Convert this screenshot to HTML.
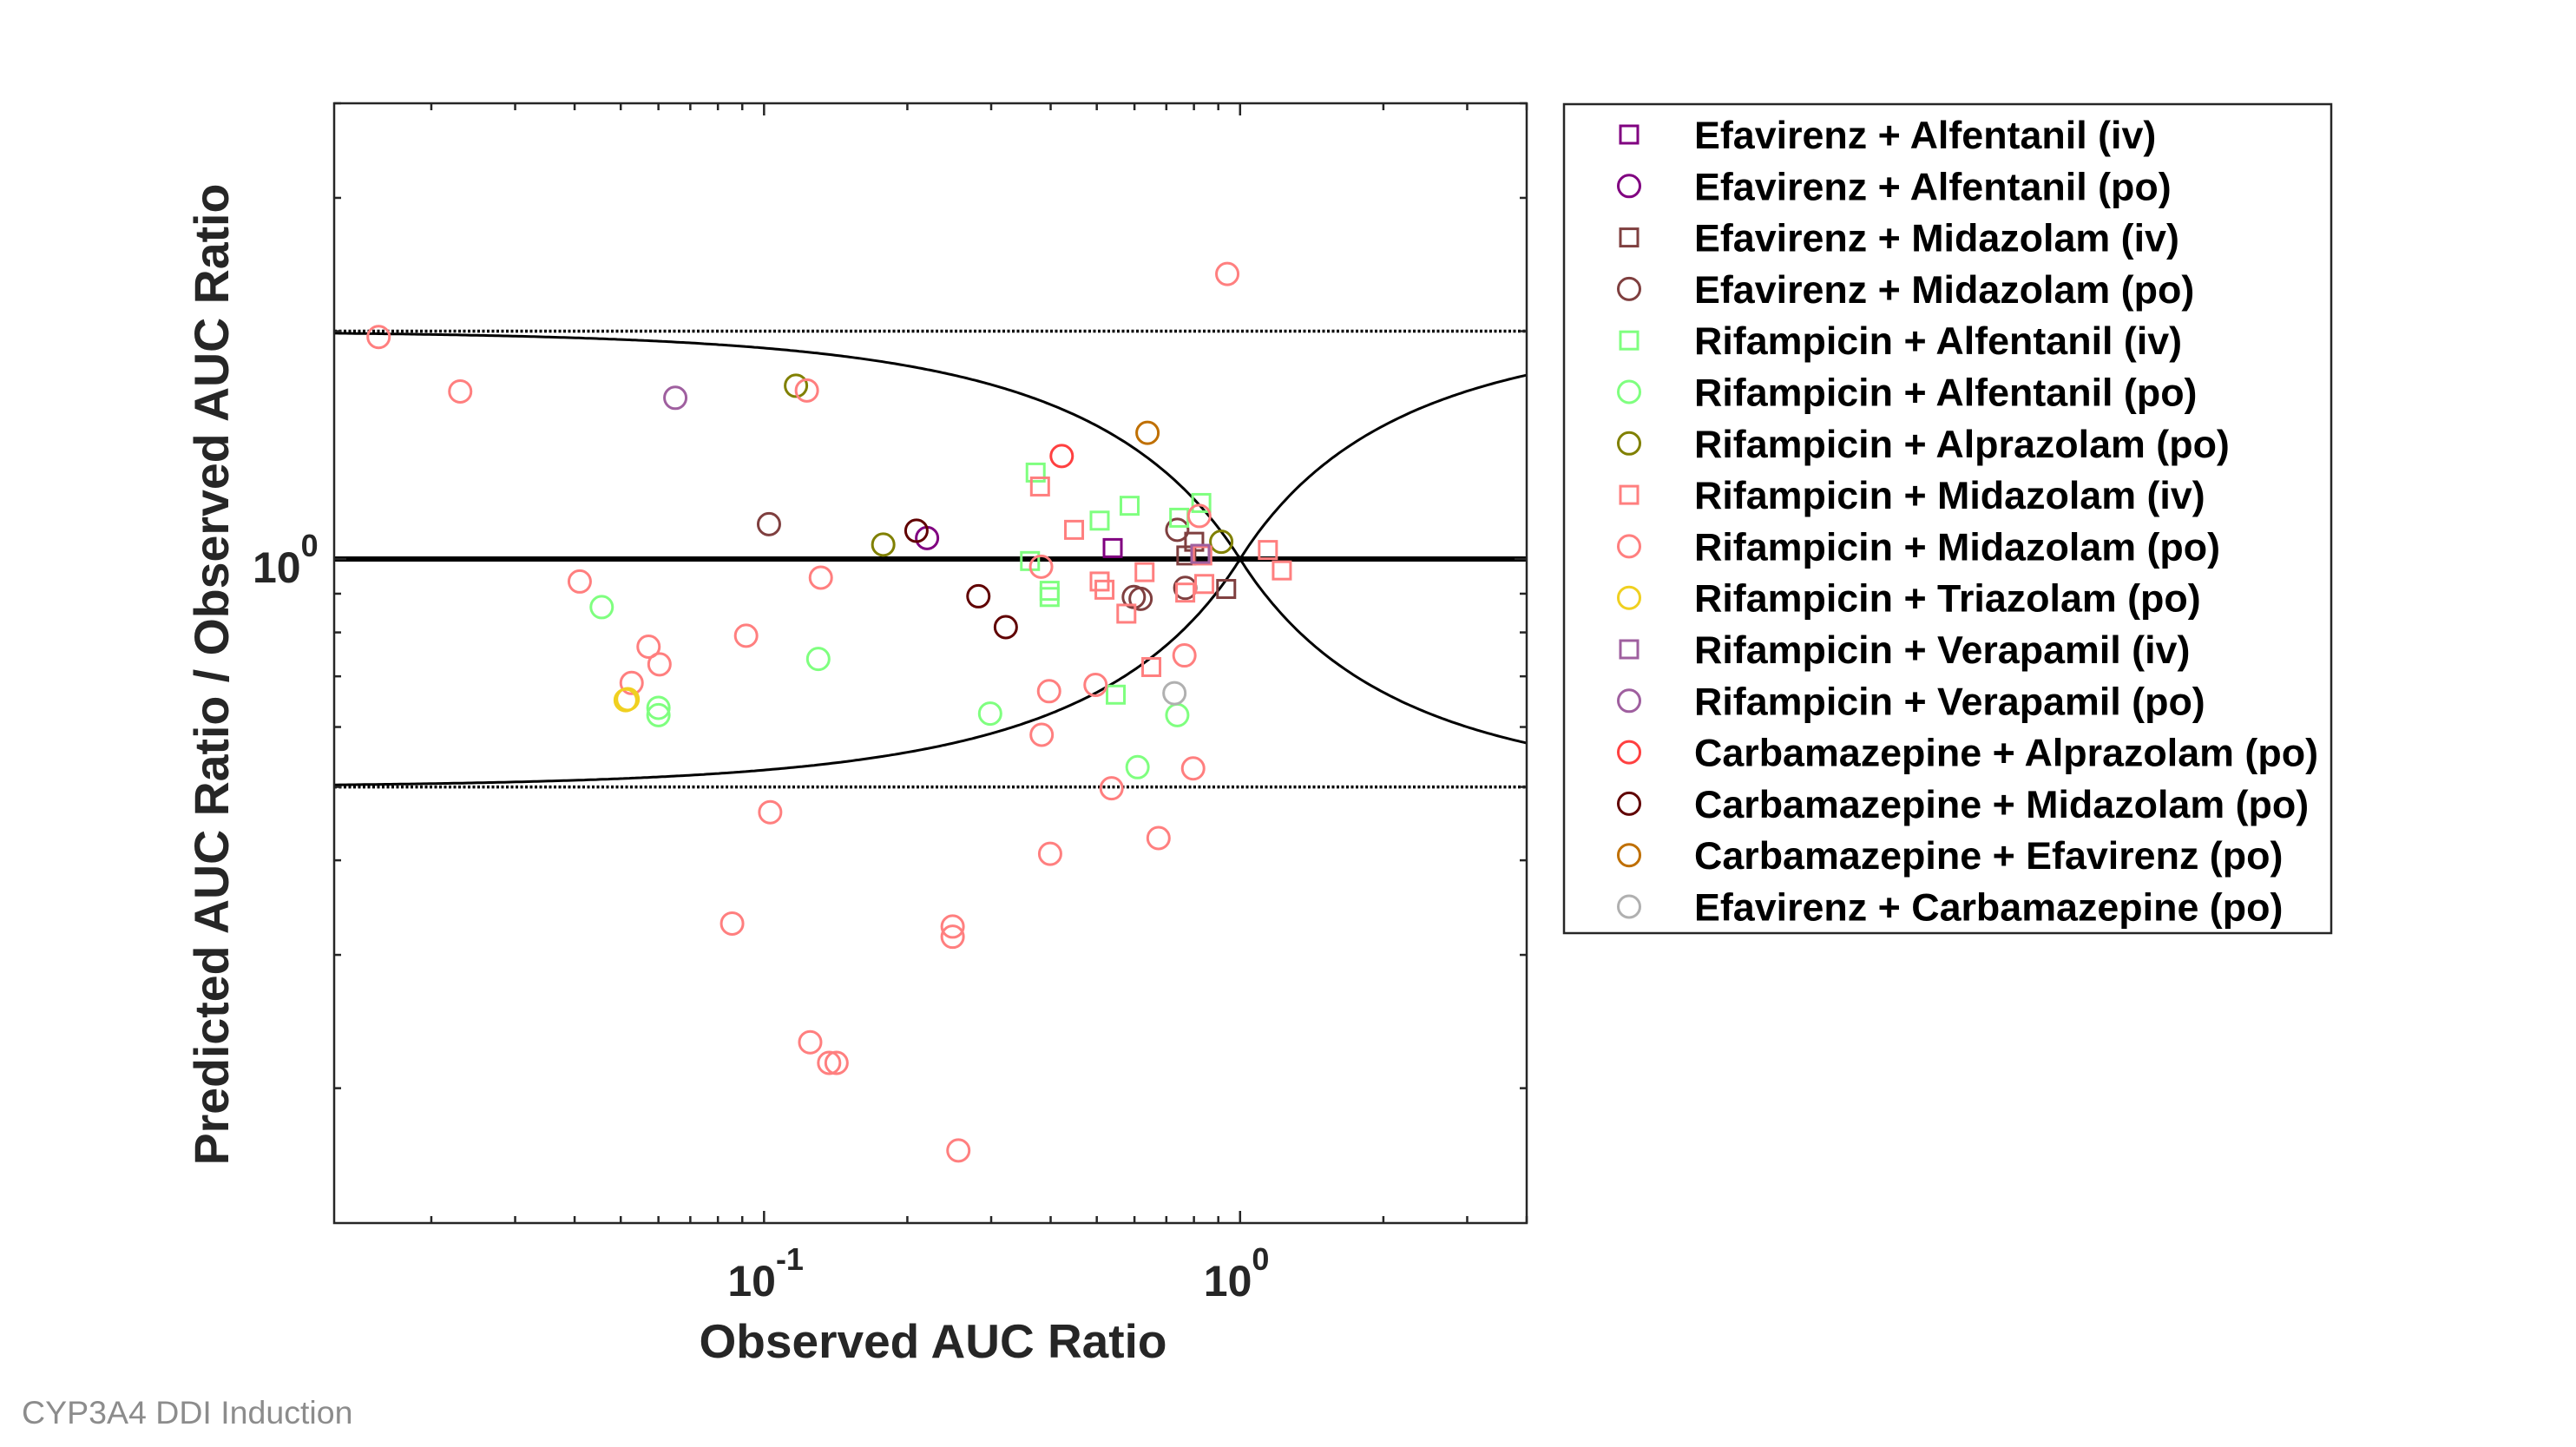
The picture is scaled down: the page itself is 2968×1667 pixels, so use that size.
<!DOCTYPE html>
<html><head><meta charset="utf-8"><style>
html,body{margin:0;padding:0;background:#fff;}
svg{display:block;}
text{font-family:"Liberation Sans",Arial,sans-serif;}
</style></head><body>
<svg id="chart" width="2968" height="1667" viewBox="0 0 2968 1667" xmlns="http://www.w3.org/2000/svg">
<g id="plot"></g>
<g id="legend"></g>
<text x="25" y="1640" font-size="37.5" fill="#8c8c8c">CYP3A4 DDI Induction</text>
</svg>
<script>
const seriesNames = ["Efavirenz + Alfentanil (iv)","Efavirenz + Alfentanil (po)","Efavirenz + Midazolam (iv)","Efavirenz + Midazolam (po)","Rifampicin + Alfentanil (iv)","Rifampicin + Alfentanil (po)","Rifampicin + Alprazolam (po)","Rifampicin + Midazolam (iv)","Rifampicin + Midazolam (po)","Rifampicin + Triazolam (po)","Rifampicin + Verapamil (iv)","Rifampicin + Verapamil (po)","Carbamazepine + Alprazolam (po)","Carbamazepine + Midazolam (po)","Carbamazepine + Efavirenz (po)","Efavirenz + Carbamazepine (po)"];
const seriesMarkers = ["s","o","s","o","s","o","o","s","o","o","s","o","o","o","o","o"];
const seriesColors = ["#800080","#800080","#7f3f3f","#7f3f3f","#7fff7f","#7fff7f","#808000","#ff7f7f","#ff7f7f","#f0d020","#9f5f9f","#9f5f9f","#ff4040","#600000","#bf6f00","#b0b0b0"];
// observed AUC ratios per series
const obs0 = [0.54];
const obs1 = [0.220];
const obs2 = [0.771,0.935,0.801];
const obs3 = [0.1024,0.738,0.598,0.618,0.767];
const obs4 = [0.372,0.507,0.586,0.829,0.745,0.362,0.398,0.398,0.548];
const obs5 = [0.0456,0.060,0.060,0.130,0.2985,0.609,0.738];
const obs6 = [0.1167,0.178,0.913];
const obs7 = [0.380,0.448,0.507,0.519,0.630,0.577,0.651,0.767,0.841,1.144,1.224,0.833];
const obs8 = [0.0155,0.0230,0.123,0.94,0.041,0.1316,0.0572,0.0603,0.0917,0.0527,0.382,0.397,0.497,0.764,0.383,0.797,0.537,0.103,0.674,0.399,0.0857,0.249,0.249,0.125,0.137,0.142,0.256,0.821];
const obs9 = [0.0512,0.0517];
const obs10 = [0.825];
const obs11 = [0.0651];
const obs12 = [0.422];
const obs13 = [0.209,0.282,0.322];
const obs14 = [0.639];
const obs15 = [0.728];
// predicted/observed ratios per series
const rat0 = [1.034];
const rat1 = [1.066];
const rat2 = [1.011,0.913,1.054];
const rat3 = [1.112,1.093,0.891,0.886,0.916];
const rat4 = [1.301,1.124,1.176,1.186,1.134,0.994,0.908,0.891,0.662];
const rat5 = [0.864,0.636,0.622,0.738,0.625,0.531,0.622];
const rat6 = [1.694,1.045,1.054];
const rat7 = [1.247,1.093,0.934,0.911,0.961,0.847,0.720,0.903,0.927,1.028,0.966,1.011];
const rat8 = [1.965,1.665,1.670,2.38,0.934,0.945,0.766,0.726,0.792,0.686,0.977,0.669,0.682,0.746,0.586,0.529,0.498,0.463,0.428,0.408,0.330,0.327,0.317,0.230,0.216,0.216,0.1655,1.14];
const rat9 = [0.651,0.653];
const rat10 = [1.016];
const rat11 = [1.633];
const rat12 = [1.368];
const rat13 = [1.090,0.893,0.813];
const rat14 = [1.468];
const rat15 = [0.665];
const obsAll = [obs0,obs1,obs2,obs3,obs4,obs5,obs6,obs7,obs8,obs9,obs10,obs11,obs12,obs13,obs14,obs15];
const ratAll = [rat0,rat1,rat2,rat3,rat4,rat5,rat6,rat7,rat8,rat9,rat10,rat11,rat12,rat13,rat14,rat15];
const xTickValues = [0.1, 1];
const xTickLabels = ["-1","0"];
const yTickValues = [1];
const yTickLabels = ["0"];
const xDomain = [0.0125, 4];
const yDomain = [0.1327, 4];

const NS = "http://www.w3.org/2000/svg";
const L = 385, R = 1759, T = 119, B = 1409;
const lg = Math.log10;
function X(v){ return L + (lg(v) - lg(xDomain[0])) / (lg(xDomain[1]) - lg(xDomain[0])) * (R - L); }
function Y(v){ return B - (lg(v) - lg(yDomain[0])) / (lg(yDomain[1]) - lg(yDomain[0])) * (B - T); }
function mk(tag, attrs, parent){ const e = document.createElementNS(NS, tag); for (const k in attrs) e.setAttribute(k, attrs[k]); parent.appendChild(e); return e; }
const plot = document.getElementById('plot');

const defs = mk('defs', {}, plot);
const cp = mk('clipPath', {id:'clip'}, defs);
mk('rect', {x:L, y:T, width:R-L, height:B-T}, cp);
const inner = mk('g', {'clip-path':'url(#clip)'}, plot);



[2, 0.5].forEach(v => {
  const ln = mk('line', {x1:L, x2:R, y1:Y(v), y2:Y(v), stroke:'#000', 'stroke-width':3.5, 'stroke-dasharray':'3 2.5'}, inner);
  
  
});
const idl = mk('line', {x1:L, x2:R, y1:Y(1), y2:Y(1), stroke:'#000', 'stroke-width':6}, inner);


function guestUpper(r){ const rr = r < 1 ? 1 / r : r; return (1 + 2 * (rr - 1)) / rr; }
let up = "", lo = "";
for (let i = 0; i <= 400; i++) {
  const lv = lg(xDomain[0]) + (lg(xDomain[1]) - lg(xDomain[0])) * i / 400;
  const r = Math.pow(10, lv), u = guestUpper(r);
  up += (i ? "L" : "M") + X(r).toFixed(1) + "," + Y(u).toFixed(1);
  lo += (i ? "L" : "M") + X(r).toFixed(1) + "," + Y(1 / u).toFixed(1);
}
const gu = mk('path', {d:up, fill:'none', stroke:'#000', 'stroke-width':3}, inner);


const gl = mk('path', {d:lo, fill:'none', stroke:'#000', 'stroke-width':3}, inner);



const box = mk('rect', {x:L, y:T, width:R-L, height:B-T, fill:'none', stroke:'#262626', 'stroke-width':2.5}, plot);



const tickG = mk('g', {stroke:'#262626', 'stroke-width':2.5}, plot);


for (let e = -2; e <= 0; e++) for (let m = 1; m <= 9; m++) {
  const v = m * Math.pow(10, e);
  if (v < xDomain[0] || v > xDomain[1]) continue;
  const len = m === 1 ? 14 : 8, x = X(v);
  mk('line', {x1:x, x2:x, y1:B, y2:B - len}, tickG);
  mk('line', {x1:x, x2:x, y1:T, y2:T + len}, tickG);
}
for (let e = -1; e <= 0; e++) for (let m = 1; m <= 9; m++) {
  const v = m * Math.pow(10, e);
  if (v < yDomain[0] || v > yDomain[1]) continue;
  const len = m === 1 ? 14 : 8, y = Y(v);
  mk('line', {x1:L, x2:L + len, y1:y, y2:y}, tickG);
  mk('line', {x1:R, x2:R - len, y1:y, y2:y}, tickG);
}
xTickValues.forEach((v, i) => {
  const t = mk('text', {x:X(v) - 42, y:1493, 'font-size':50, 'font-weight':'bold', fill:'#262626'}, plot);
  
  
  t.textContent = "10";
  const s = mk('tspan', {dy:-30, 'font-size':36}, t);
  s.textContent = xTickLabels[i];
});
yTickValues.forEach((v, i) => {
  const t = mk('text', {x:291, y:Y(v) + 27, 'font-size':50, 'font-weight':'bold', fill:'#262626'}, plot);
  
  
  t.textContent = "10";
  const s = mk('tspan', {dy:-30, 'font-size':36}, t);
  s.textContent = yTickLabels[i];
});
const xt = mk('text', {x:1075, y:1564, 'font-size':55, 'font-weight':'bold', fill:'#262626', 'text-anchor':'middle'}, plot);


xt.textContent = "Observed AUC Ratio";
const yt = mk('text', {x:0, y:0, 'font-size':55.5, 'font-weight':'bold', fill:'#262626', 'text-anchor':'middle', transform:'translate(263,777) rotate(-90)'}, plot);


yt.textContent = "Predicted AUC Ratio / Observed AUC Ratio";

function marker(parent, type, cx, cy, color){
  if (type === 's') return mk('rect', {x:cx - 10, y:cy - 10, width:20, height:20, fill:'none', stroke:color, 'stroke-width':3}, parent);
  return mk('circle', {cx:cx, cy:cy, r:12.5, fill:'none', stroke:color, 'stroke-width':3}, parent);
}
obsAll.forEach((ob, s) => {
  const g = mk('g', {}, plot);
  
  
  ob.forEach((v, i) => {
    const m = marker(g, seriesMarkers[s], X(v), Y(ratAll[s][i]), seriesColors[s]);
    
    
  });
});

const leg = document.getElementById('legend');
const lb = mk('rect', {x:1802, y:120, width:884, height:955, fill:'#fff', stroke:'#262626', 'stroke-width':2.5}, leg);


seriesNames.forEach((n, i) => {
  const cy = 155 + i * 59.3;
  const g = mk('g', {}, leg);
  
  
  marker(g, seriesMarkers[i], 1877, cy, seriesColors[i]);
  const t = mk('text', {x:1952, y:cy + 16, 'font-size':44.8, 'font-weight':'bold', fill:'#000'}, g);
  t.textContent = n;
});
</script>
</body></html>
